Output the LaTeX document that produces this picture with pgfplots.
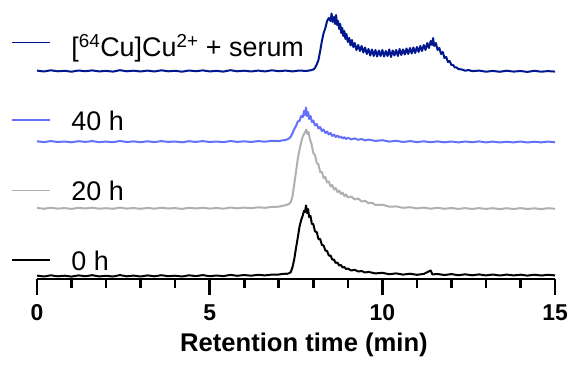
\documentclass[border=0pt]{standalone}
\usepackage{pgfplots}
\pgfplotsset{compat=1.18}
\usepackage{pgfplotstable}
\usepackage{fontspec}
\setmainfont{Liberation Sans}
\definecolor{serum}{RGB}{0,23,143}
\definecolor{hforty}{RGB}{100,112,250}
\definecolor{htwenty}{RGB}{176,176,176}

\pgfplotstableread{
x y
0.0 208.4
0.2 207.5
0.4 208.7
0.6 207.7
0.8 208.2
1.0 207.3
1.2 208.5
1.4 207.8
1.6 208.6
1.8 207.6
2.0 208.1
2.2 207.4
2.4 208.8
2.6 207.7
2.8 208.3
3.0 207.5
3.2 208.4
3.4 207.5
3.6 208.7
3.8 207.7
4.0 208.2
4.2 207.3
4.4 208.5
4.6 207.8
4.8 208.6
5.0 207.6
5.2 208.1
5.4 207.4
5.6 208.8
5.8 207.7
6.0 208.3
6.2 207.5
6.4 208.4
6.6 207.6
6.8 208.7
7.0 207.8
7.2 208.4
7.4 207.6
7.6 208.5
7.8 208.0
7.90 208.6
7.95 208.9
8.00 209.5
8.05 211
8.10 214.5
8.15 219
8.20 228
8.25 238
8.30 246
8.35 251
8.40 258
8.45 261
8.50 258
8.53 265.5
8.56 257
8.60 262
8.63 255
8.66 264
8.69 254
8.72 258
8.75 250
8.78 255
8.81 246
8.84 251
8.87 243
8.90 248
8.93 240
8.96 245
9.00 237
9.04 241
9.08 233.5
9.12 239
9.16 232
9.20 236
9.25 229
9.30 234
9.35 228
9.40 233
9.45 226.5
9.50 231.5
9.55 225
9.60 230
9.65 223.5
9.70 229.5
9.75 223
9.80 229
9.85 222.5
9.90 228.5
9.95 223
10.00 229
10.05 222.5
10.10 228
10.15 223
10.20 229.5
10.25 222
10.30 228.5
10.35 223.5
10.40 229
10.45 223
10.50 230
10.55 224
10.60 229.5
10.65 224.5
10.70 230.5
10.75 225
10.80 231
10.85 225.5
10.90 231.5
10.95 226
11.00 232
11.05 227
11.10 233
11.15 228
11.20 234
11.25 229
11.30 236
11.35 231
11.40 238
11.44 234
11.47 241
11.50 233
11.55 236
11.60 229
11.65 231
11.70 225
11.75 227
11.80 221
11.85 222
11.90 217
11.95 218
12.00 214
12.05 214
12.10 211.5
12.15 211.5
12.20 210
12.30 209.5
12.40 208.3
12.50 209
12.60 207.8
12.8 208.4
13.0 207.3
13.2 208.1
13.4 207.2
13.6 208.3
13.8 207.4
14.0 208.0
14.2 207.1
14.4 208.2
14.6 207.3
14.8 207.9
15.0 207.4
}\serumdata

\pgfplotstableread{
x y
0.0 137.7
0.2 136.9
0.4 137.9
0.6 137.0
0.8 137.5
1.0 136.7
1.2 137.8
1.4 137.1
1.6 137.9
1.8 136.9
2.0 137.4
2.2 136.8
2.4 138.0
2.6 137.0
2.8 137.6
3.0 136.8
3.2 137.7
3.4 136.9
3.6 137.9
3.8 137.1
4.0 137.5
4.2 136.7
4.4 137.8
4.6 137.1
4.8 137.9
5.0 137.0
5.2 137.5
5.4 136.8
5.6 138.0
5.8 137.1
6.0 137.7
6.2 137.0
6.4 137.9
6.6 137.3
6.8 138.2
7.0 137.8
7.1 138.6
7.20 139.0
7.25 139.8
7.30 140.5
7.35 142.5
7.40 146
7.45 150
7.50 153
7.55 157.5
7.60 158
7.65 163
7.70 162
7.73 168
7.76 164
7.79 171.5
7.82 163
7.85 167
7.88 160
7.92 163
7.96 157
8.00 158.5
8.05 153.5
8.10 155
8.15 150.5
8.20 152
8.25 148
8.30 149.5
8.35 146
8.40 147.5
8.45 144.5
8.50 146
8.55 143
8.60 144.5
8.65 142
8.70 143.5
8.75 141.5
8.80 142.5
8.85 140.5
8.90 141.8
8.95 140
9.00 141.2
9.10 139.6
9.20 140.6
9.30 139.2
9.40 140.0
9.50 138.6
9.60 139.4
9.8 138.1
10.0 138.8
10.2 137.4
10.4 138.2
10.6 137.0
10.8 137.9
11.0 136.9
11.2 137.7
11.4 136.8
11.6 137.6
11.8 136.7
12.0 137.5
12.2 136.6
12.4 137.5
12.6 136.8
12.8 137.6
13.0 136.6
13.2 137.4
13.4 136.5
13.6 137.3
13.8 136.6
14.0 137.5
14.2 136.5
14.4 137.3
14.6 136.6
14.8 137.4
15.0 136.7
}\fortydata

\pgfplotstableread{
x y
0.0 71.1
0.2 70.2
0.4 71.3
0.6 70.4
0.8 70.9
1.0 70.1
1.2 71.2
1.4 70.5
1.6 71.3
1.8 70.3
2.0 70.8
2.2 70.2
2.4 71.4
2.6 70.4
2.8 71.0
3.0 70.2
3.2 71.1
3.4 70.3
3.6 71.3
3.8 70.5
4.0 70.9
4.2 70.1
4.4 71.2
4.6 70.5
4.8 71.3
5.0 70.4
5.2 71.0
5.4 70.3
5.6 71.5
5.8 70.7
6.0 71.4
6.2 70.8
6.4 71.7
6.6 71.2
6.8 72.1
7.0 72.3
7.10 73.1
7.20 73.9
7.25 74.3
7.30 75.2
7.35 77
7.40 83
7.45 95
7.50 107
7.55 120
7.60 129
7.65 137
7.70 143
7.75 146
7.80 149.5
7.83 145
7.86 147
7.90 140
7.95 135
8.00 126
8.05 124
8.10 116
8.15 114.5
8.20 107
8.25 107
8.30 101
8.35 102
8.40 96.5
8.45 97.5
8.50 92.5
8.55 94
8.60 89.5
8.65 91
8.70 87
8.75 88.5
8.80 85
8.85 86.5
8.90 83
8.95 84.5
9.00 81.5
9.10 82.5
9.20 79.5
9.30 80.5
9.40 77.5
9.50 78.2
9.60 75.8
9.70 76.3
9.80 74.0
10.0 74.3
10.2 72.3
10.4 72.6
10.6 71.2
10.8 71.8
11.0 70.6
11.2 71.4
11.4 70.3
11.6 71.2
11.8 70.2
12.0 71.0
12.2 70.1
12.4 70.9
12.6 70.0
12.8 70.9
13.0 70.1
13.2 70.8
13.4 69.9
13.6 70.8
13.8 70.0
14.0 70.9
14.2 70.0
14.4 70.7
14.6 69.9
14.8 70.8
15.0 70.2
}\twentydata

\pgfplotstableread{
x y
0.0 3.4
0.2 2.5
0.4 3.7
0.6 2.7
0.8 3.3
1.0 2.4
1.2 3.6
1.4 2.8
1.6 3.8
1.8 2.6
2.0 3.2
2.2 2.5
2.4 3.9
2.6 2.7
2.8 3.4
3.0 2.5
3.2 3.6
3.4 2.7
3.6 3.8
3.8 2.8
4.0 3.3
4.2 2.5
4.4 3.7
4.6 2.9
4.8 3.9
5.0 2.8
5.2 3.5
5.4 2.9
5.6 4.1
5.8 3.2
6.0 4.0
6.2 3.3
6.4 4.2
6.6 3.6
6.8 4.4
7.0 4.5
7.10 5.0
7.20 5.3
7.25 5.2
7.30 5.8
7.35 7
7.40 12
7.45 20
7.50 31
7.55 41
7.60 52
7.65 59
7.70 64
7.73 68
7.76 67
7.79 73.5
7.82 66
7.85 70
7.88 62
7.92 63
7.96 55
8.00 55
8.05 47.5
8.10 47
8.15 40
8.20 40
8.25 34
8.30 33.5
8.35 28.5
8.40 28
8.45 23.5
8.50 23.5
8.55 19.5
8.60 19.5
8.65 16
8.70 16.5
8.75 13.5
8.80 14
8.85 11.5
8.90 12
8.95 10
9.00 10.5
9.10 8.5
9.20 9.2
9.30 7.5
9.40 8.0
9.50 6.5
9.60 7.1
9.8 5.6
10.0 6.2
10.2 4.8
10.4 5.6
10.6 4.4
10.8 5.3
11.0 4.2
11.2 5.1
11.4 8.5
11.45 4.6
11.6 5.0
11.8 4.0
12.0 4.9
12.2 3.8
12.4 4.7
12.6 3.7
12.8 4.6
13.0 3.6
13.2 4.5
13.4 3.5
13.6 4.4
13.8 3.6
14.0 4.3
14.2 3.4
14.4 4.3
14.6 3.5
14.8 4.2
15.0 3.6
}\zerodata

\begin{document}
\begin{tikzpicture}
\begin{axis}[
  scale only axis, width=518bp, height=279bp,
  xmin=0, xmax=15, ymin=0, ymax=279,
  axis x line*=bottom, axis y line=none,
  axis line style={line width=2.6bp, black},
  xtick={0,5,10,15},
  minor xtick={1,2,3,4,6,7,8,9,11,12,13,14},
  tick align=outside,
  major tick length=16bp, minor tick length=9bp,
  every tick/.style={line width=2.6bp, black},
  /pgf/number format/assume math mode=true,
  xticklabel style={font=\bfseries\fontsize{23}{23}\selectfont, anchor=base, yshift=-25bp},
  clip=false,
]
\path (axis cs:-1.0714,-91) rectangle (axis cs:15.492,279);

\addplot[serum, line width=2bp, line join=round] table[x=x,y=y] {\serumdata};
\addplot[hforty, line width=2bp, line join=round] table[x=x,y=y] {\fortydata};
\addplot[htwenty, line width=2bp, line join=round] table[x=x,y=y] {\twentydata};
\addplot[black, line width=2bp, line join=round] table[x=x,y=y] {\zerodata};

\addplot[serum, line width=1.2bp] coordinates {(-0.72,236.3) (0.38,236.3)};
\addplot[hforty, line width=1.2bp] coordinates {(-0.72,159) (0.38,159)};
\addplot[htwenty, line width=1.2bp] coordinates {(-0.72,88.3) (0.38,88.3)};
\addplot[black, line width=1.2bp] coordinates {(-0.72,19) (0.38,19)};

\node[anchor=base west, inner sep=0pt, font=\fontsize{27}{27}\selectfont] at (axis cs:0.99,222.3) {[\textsuperscript{64}Cu]Cu\textsuperscript{2+} + serum};
\node[anchor=base west, inner sep=0pt, font=\fontsize{27}{27}\selectfont] at (axis cs:0.99,149) {40 h};
\node[anchor=base west, inner sep=0pt, font=\fontsize{27}{27}\selectfont] at (axis cs:0.99,78.3) {20 h};
\node[anchor=base west, inner sep=0pt, font=\fontsize{27}{27}\selectfont] at (axis cs:0.99,9) {0 h};

\node[anchor=base, inner sep=0pt, font=\bfseries\fontsize{25.7}{25.7}\selectfont] at (axis cs:7.73,-72.7) {Retention time (min)};
\end{axis}
\end{tikzpicture}
\end{document}
